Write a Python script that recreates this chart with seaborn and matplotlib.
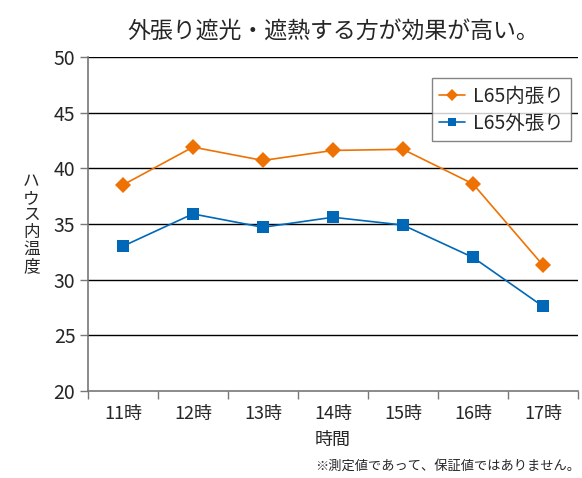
import numpy as np
import pandas as pd
import matplotlib.pyplot as plt
import seaborn as sns

# data
hours = ['11時', '12時', '13時', '14時', '15時', '16時', '17時']
inner = [38.5, 41.9, 40.7, 41.6, 41.7, 38.6, 31.3]
outer = [33.0, 35.9, 34.7, 35.6, 34.9, 32.0, 27.6]
series = ['L65内張り', 'L65外張り']

sns.set_style('white')
plt.rcParams['font.family'] = ['Noto Sans CJK JP', 'DejaVu Sans']

df = pd.DataFrame({
    '時間': hours * 2,
    '温度': inner + outer,
    '系列': [series[0]] * len(hours) + [series[1]] * len(hours),
})

fig, ax = plt.subplots(figsize=(5.82, 4.78), dpi=100)
fig.subplots_adjust(left=0.151, right=0.993, top=0.881, bottom=0.182)

sns.lineplot(data=df, x='時間', y='温度', hue='系列', style='系列',
             palette={series[0]: '#EE7203', series[1]: '#0068B7'},
             markers={series[0]: 'D', series[1]: 's'}, dashes=False,
             markersize=8, markeredgewidth=0, linewidth=1.2, ax=ax, zorder=3)

ax.set_ylim(20, 50)
ax.set_xlim(-0.5, 6.5)
ax.set_yticks(np.arange(20, 51, 5))
for y in range(25, 51, 5):
    ax.axhline(y, color='black', linewidth=1.0, zorder=1)

# ticks on category boundaries
ax.set_xticks(np.arange(-0.5, 7, 1), minor=False)
ax.set_xticklabels([])
ax.set_xticks(np.arange(7), minor=True)
ax.set_xticklabels(hours, minor=True)
ax.tick_params(axis='x', which='major', length=6, width=1, color='#777777', direction='out')
ax.tick_params(axis='x', which='minor', length=0, labelsize=13, pad=10)
ax.tick_params(axis='y', length=6, width=1, color='#777777', direction='out', labelsize=14, pad=3)
ax.tick_params(bottom=True, left=True)

for s in ['top', 'right']:
    ax.spines[s].set_visible(False)
for s in ['left', 'bottom']:
    ax.spines[s].set_color('#777777')
    ax.spines[s].set_linewidth(1.2)

ax.set_xlabel('時間', fontsize=13, labelpad=6)
ax.set_ylabel('\n'.join('ハウス内温度'), fontsize=12, rotation=0, labelpad=16,
              va='center', linespacing=1.0)
ax.set_title('外張り遮光・遮熱する方が効果が高い。', fontsize=16.5, pad=14, x=0.5)

leg = ax.legend(loc='upper right', bbox_to_anchor=(0.986, 0.937), borderaxespad=0,
                fontsize=14, frameon=True, fancybox=False, edgecolor='#666666',
                handlelength=1.3, handletextpad=0.4, borderpad=0.4, labelspacing=0.3,
                markerscale=0.75)
leg.get_frame().set_linewidth(1.0)
leg.set_zorder(5)

fig.text(0.997, 0.012, '※測定値であって、保証値ではありません。', ha='right', va='bottom', fontsize=9.5)

plt.savefig('out.png', dpi=100)
